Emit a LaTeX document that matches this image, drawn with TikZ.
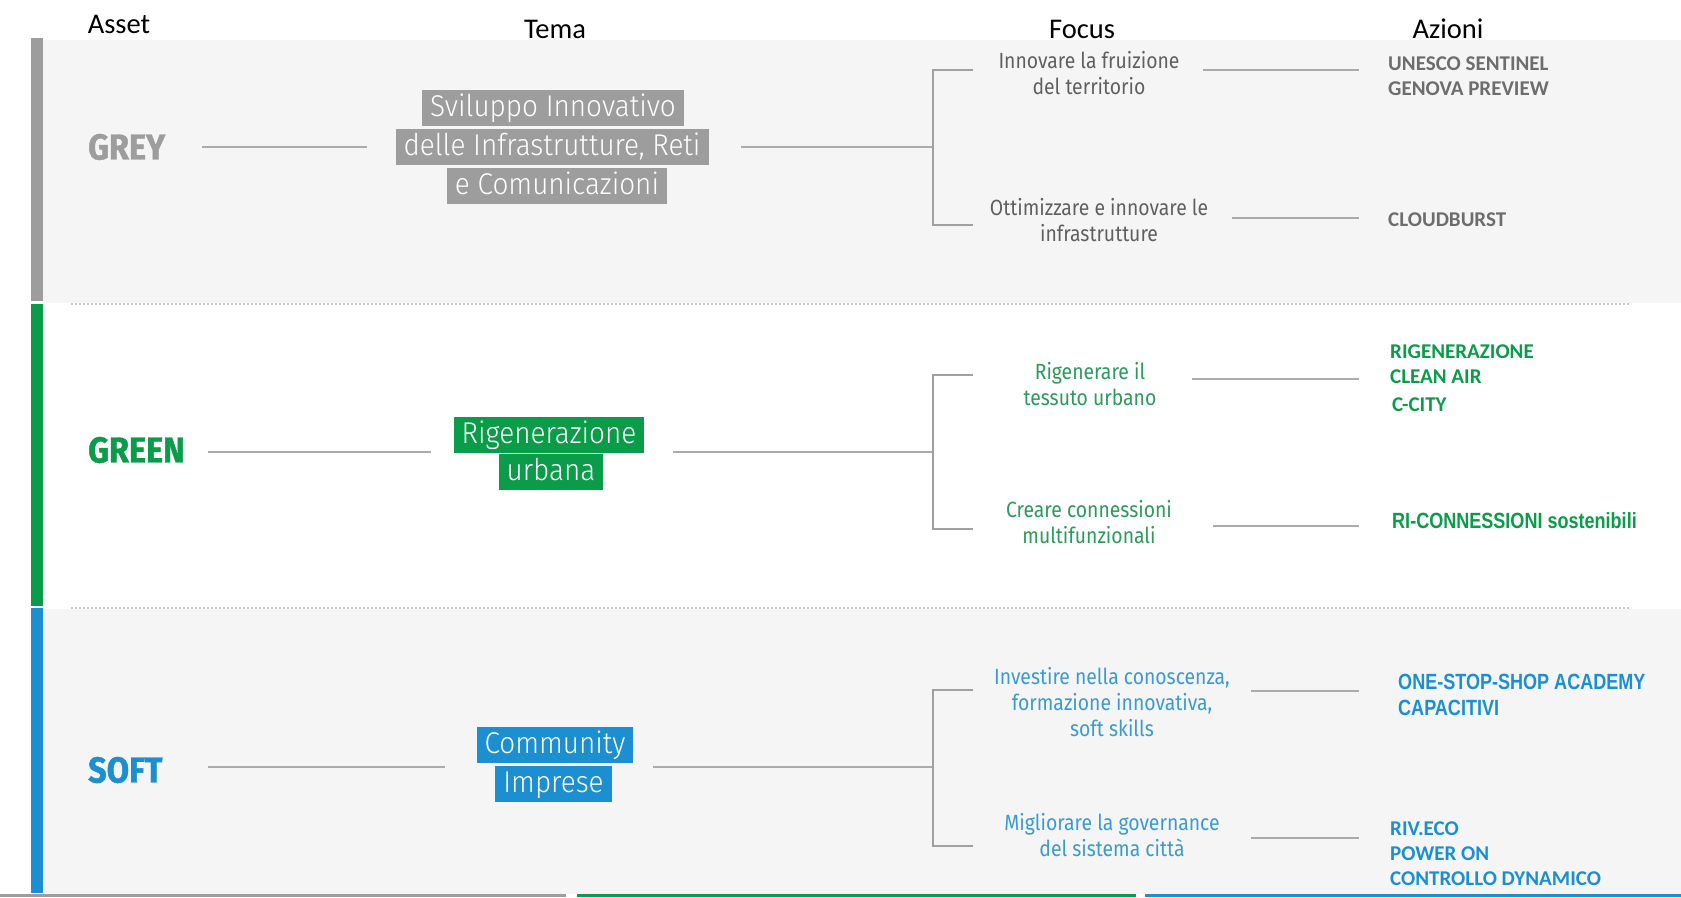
\documentclass[tikz,border=0pt]{standalone}
\usepackage{fontspec}
\setmainfont{Fira Sans}
\newfontfamily\hdrfont{Carlito}
\newfontfamily\lightfont{Fira Sans Light}[FakeStretch=0.93]
\newfontfamily\focusfont{Fira Sans}[FakeStretch=0.88]
\newfontfamily\labelfont{Fira Sans}[FakeStretch=0.9,FakeBold=1.2]
\newfontfamily\actfont{Carlito}
\newfontfamily\narrowfont{Liberation Sans}[FakeStretch=0.82]
\definecolor{bgc}{HTML}{F5F5F5}
\definecolor{cgrey}{HTML}{9D9D9D}
\definecolor{cgreyf}{HTML}{606060}
\definecolor{cgreya}{HTML}{6D6D6D}
\definecolor{cgreen}{HTML}{0B9C4A}
\definecolor{cgreenf}{HTML}{2B9A5B}
\definecolor{cblue}{HTML}{1B8FCF}
\definecolor{cbluef}{HTML}{3B9BD0}
\definecolor{linec}{HTML}{ABABAB}
\definecolor{brkc}{HTML}{A0A0A0}
\definecolor{sepc}{HTML}{C8C8C8}
\begin{document}
\begin{tikzpicture}[x=1pt,y=-1pt,
  hdr/.style={font=\hdrfont\fontsize{28.5}{32}\selectfont, text=black, inner sep=0},
  asset/.style={font=\labelfont\bfseries\fontsize{36}{40}\selectfont, inner sep=0, anchor=west},
  theme/.style={font=\lightfont\fontsize{30}{36}\selectfont, text=white, inner xsep=8pt, inner ysep=1.5pt, text height=25pt, text depth=8pt},
  focus/.style={font=\focusfont\fontsize{22}{26}\selectfont, align=center, inner sep=0},
  act/.style={font=\actfont\bfseries\fontsize{21}{25}\selectfont, align=left, anchor=west, inner sep=0},
  actn/.style={font=\narrowfont\bfseries\fontsize{22}{26}\selectfont, align=left, anchor=west, inner sep=0},
  conn/.style={draw=linec, line width=2pt},
  brk/.style={draw=brkc, line width=1.5pt},
  sep/.style={draw=sepc, line width=1.5pt, dash pattern=on 1.5pt off 2.5pt}]
\useasboundingbox (0,0) rectangle (1681,897);
\fill[white] (0,0) rectangle (1681,897);
% backgrounds
\fill[bgc] (43,40) rectangle (1681,303);
\fill[bgc] (43,609) rectangle (1681,894);
\fill[cgrey] (31,38) rectangle (43,301);
\fill[cgreen] (31,304) rectangle (43,606);
\fill[cblue] (31,608) rectangle (43,893);
\draw[sep] (71,304) -- (1629,304);
\draw[sep] (71,608) -- (1629,608);
\fill[cgrey] (0,894) rectangle (566,897);
\fill[cgreen] (577,894) rectangle (1136,897);
\fill[cblue] (1145,894) rectangle (1681,897);
% headers
\node[hdr] (hasset) at (119,24) {Asset};
\node[hdr] (htema) at (555,29) {Tema};
\node[hdr] (hfocus) at (1082,29) {Focus};
\node[hdr] (hazioni) at (1448,29) {Azioni};
% junction and bracket coordinates
\coordinate (gj) at (933,147);
\coordinate (gb1) at (973,70);
\coordinate (gb2) at (973,225);
\coordinate (nj) at (933,452);
\coordinate (nb1) at (973,375);
\coordinate (nb2) at (973,529);
\coordinate (sj) at (933,767);
\coordinate (sb1) at (973,690);
\coordinate (sb2) at (973,846);
% ---------------- GREY
\node[asset, text=cgrey] (gl) at (88,147) {GREY};
\node[theme, fill=cgrey] (gt1) at (553,108) {Sviluppo Innovativo};
\node[theme, fill=cgrey] (gt2) at (552,147) {delle Infrastrutture, Reti};
\node[theme, fill=cgrey] (gt3) at (557,186) {e Comunicazioni};
\node[focus, text=cgreyf] (gf1) at (1089,73) {Innovare la fruizione\\del territorio};
\node[focus, text=cgreyf] (gf2) at (1099,220) {Ottimizzare e innovare le\\infrastrutture};
\node[act, text=cgreya] (ga1) at (1388,76.5) {UNESCO SENTINEL\\GENOVA PREVIEW};
\node[act, text=cgreya] (ga2) at (1388,220) {CLOUDBURST};
\draw[conn, shorten <=114pt, shorten >=185pt] (gl.west |- gj) -- (gt2.center |- gj);
\draw[conn, shorten <=189pt] (gt2.center |- gj) -- (gj);
\draw[brk] (gb1) -| (gj) |- (gb2);
\draw[conn, shorten <=114pt, shorten >=29pt] ([yshift=3pt]gf1.center) -- ([yshift=3pt]gf1.center -| ga1.west);
\draw[conn, shorten <=133pt, shorten >=29pt] ([yshift=2pt]gf2.center) -- ([yshift=2pt]gf2.center -| ga2.west);
% ---------------- GREEN
\node[asset, text=cgreen] (nl) at (88,450) {GREEN};
\node[theme, fill=cgreen] (nt1) at (549,435) {Rigenerazione};
\node[theme, fill=cgreen] (nt2) at (551,472) {urbana};
\node[focus, text=cgreenf] (nf1) at (1090,384.5) {Rigenerare il\\tessuto urbano};
\node[focus, text=cgreenf] (nf2) at (1089,522.5) {Creare connessioni\\multifunzionali};
\node[act, text=cgreen] (na1) at (1390,364.5) {RIGENERAZIONE\\CLEAN AIR};
\node[act, text=cgreen] (na2) at (1392,405) {C-CITY};
\node[actn, text=cgreen] (na3) at (1392,521) {RI-CONNESSIONI sostenibili};
\draw[conn, shorten <=120pt, shorten >=118pt] (nl.west |- nj) -- (nt1.center |- nj);
\draw[conn, shorten <=124pt] (nt1.center |- nj) -- (nj);
\draw[brk] (nb1) -| (nj) |- (nb2);
\draw[conn, shorten <=102pt, shorten >=31pt] ([yshift=5.5pt]nf1.center) -- ([yshift=5.5pt]nf1.center -| na1.west);
\draw[conn, shorten <=124pt, shorten >=33pt] ([yshift=-3.5pt]nf2.center) -- ([yshift=-3.5pt]nf2.center -| na3.west);
% ---------------- SOFT
\node[asset, text=cblue] (sl) at (88,770) {SOFT};
\node[theme, fill=cblue] (st1) at (555,745) {Community};
\node[theme, fill=cblue] (st2) at (553.5,783.5) {Imprese};
\node[focus, text=cbluef] (sf1) at (1112,702) {Investire nella conoscenza,\\formazione innovativa,\\soft skills};
\node[focus, text=cbluef] (sf2) at (1112,835) {Migliorare la governance\\del sistema città};
\node[actn, text=cblue] (sa1) at (1398,695) {ONE-STOP-SHOP ACADEMY\\CAPACITIVI};
\node[act, text=cblue] (sa2) at (1390,853.5) {RIV.ECO\\POWER ON\\CONTROLLO DYNAMICO};
\draw[conn, shorten <=120pt, shorten >=110pt] (sl.west |- sj) -- (st1.center |- sj);
\draw[conn, shorten <=98pt] (st1.center |- sj) -- (sj);
\draw[brk] (sb1) -| (sj) |- (sb2);
\draw[conn, shorten <=139pt, shorten >=39pt] ([yshift=11pt]sf1.center) -- ([yshift=11pt]sf1.center -| sa1.west);
\draw[conn, shorten <=139pt, shorten >=31pt] ([yshift=-3pt]sf2.center) -- ([yshift=-3pt]sf2.center -| sa2.west);
\end{tikzpicture}
\end{document}
